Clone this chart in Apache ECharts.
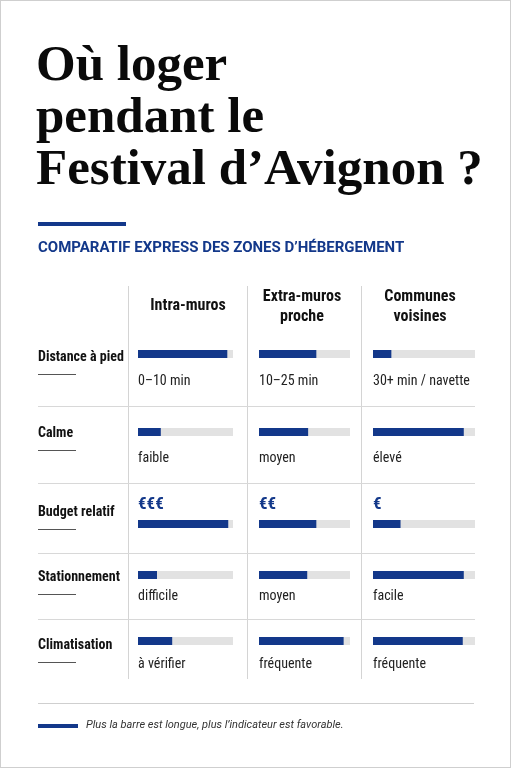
<!DOCTYPE html>
<html><head><meta charset="utf-8">
<script src="https://cdn.jsdelivr.net/npm/echarts@6/dist/echarts.min.js"></script>
<style>html,body{margin:0;padding:0;background:#fff}#c{width:511px;height:768px;box-sizing:border-box;border:1px solid #cfcfcf}</style>
</head><body><div id="c"></div>
<script>
const zones = ["Intra-muros", "Extra-muros\nproche", "Communes\nvoisines"];
const criteria = ["Distance à pied", "Calme", "Budget relatif", "Stationnement", "Climatisation"];
const scores = [
  [0.94, 0.63, 0.18],
  [0.24, 0.54, 0.89],
  [0.95, 0.63, 0.27],
  [0.20, 0.53, 0.89],
  [0.36, 0.93, 0.88]
];
const notes = [
  ["0–10 min", "10–25 min", "30+ min / navette"],
  ["faible", "moyen", "élevé"],
  ["€€€", "€€", "€"],
  ["difficile", "moyen", "facile"],
  ["à vérifier", "fréquente", "fréquente"]
];
const BLUE = "#13388a", TRACK = "#e2e2e2";
const NARROW = "'Liberation Sans Narrow','Roboto Condensed',Roboto,sans-serif";
const colX = [137, 258, 372], colW = [95, 91, 102], colC = [187, 301, 419];
const barY = [353, 431, 523, 574, 640];
const labY = [357, 433, 512, 577, 645];
const noteY = [381, 458, 505, 596, 664];

const grid = [], xAxis = [], yAxis = [], series = [];
const g = [];
criteria.forEach((cr, r) => {
  zones.forEach((z, c) => {
    const i = grid.length;
    grid.push({left: colX[c], top: barY[r] - 4, width: colW[c], height: 8});
    xAxis.push({gridIndex: i, type: 'value', min: 0, max: 1, show: false});
    yAxis.push({gridIndex: i, type: 'category', data: [cr], show: false});
    series.push({type: 'bar', xAxisIndex: i, yAxisIndex: i, data: [scores[r][c]], barWidth: 8,
      itemStyle: {color: BLUE}, showBackground: true, backgroundStyle: {color: TRACK}, silent: true});
    const isBudget = r === 2;
    g.push({type: 'text', left: colX[c], top: noteY[r] - (isBudget ? 10 : 8), style: {text: notes[r][c],
      font: (isBudget ? 'bold 17px ' : '14px ') + NARROW, fill: isBudget ? BLUE : '#222'}});
  });
  g.push({type: 'text', left: 37, top: labY[r] - 8, style: {text: cr, font: 'bold 14px ' + NARROW, fill: '#111'}});
  g.push({type: 'rect', shape: {x: 37, y: labY[r] + 16, width: 38, height: 1}, style: {fill: '#555'}});
});
zones.forEach((z, c) => {
  const two = z.indexOf("\n") >= 0;
  g.push({type: 'text', x: colC[c], y: two ? 306 : 305, style: {text: z, font: 'bold 16px ' + NARROW, fill: '#111',
    align: 'center', verticalAlign: 'middle', lineHeight: 20}});
});
[127, 246, 360].forEach(x => g.push({type: 'rect', shape: {x: x, y: 285, width: 1, height: 393}, style: {fill: '#d4d4d4'}}));
[405, 482, 552, 618].forEach(y => g.push({type: 'rect', shape: {x: 37, y: y, width: 437, height: 1}, style: {fill: '#d8d8d8'}}));
g.push({type: 'rect', shape: {x: 37, y: 702, width: 436, height: 1}, style: {fill: '#cfcfcf'}});
g.push({type: 'rect', shape: {x: 37, y: 723, width: 40, height: 4}, style: {fill: BLUE}});
g.push({type: 'text', left: 85, top: 719, style: {text: "Plus la barre est longue, plus l’indicateur est favorable.", font: 'italic 11px Roboto,sans-serif', fill: '#333'}});
g.push({type: 'text', left: 35, top: 40, style: {text: "Où loger\npendant le\nFestival d’Avignon ?", font: 'bold 51px "Liberation Serif",serif', fill: '#0a0a0a', lineHeight: 52}});
g.push({type: 'rect', shape: {x: 37, y: 221, width: 88, height: 4}, style: {fill: BLUE}});
g.push({type: 'text', left: 37, top: 240, style: {text: "COMPARATIF EXPRESS DES ZONES D’HÉBERGEMENT", font: 'bold 15px Roboto,sans-serif', fill: BLUE}});

const chart = echarts.init(document.getElementById('c'));
chart.setOption({animation: false, grid, xAxis, yAxis, series, graphic: g});
</script></body></html>
